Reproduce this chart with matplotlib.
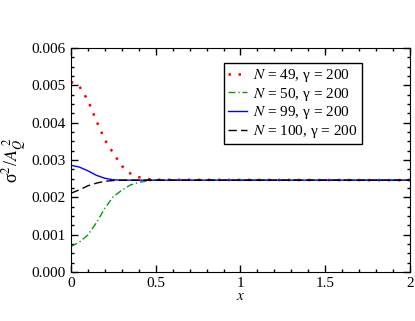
import matplotlib
matplotlib.use("Agg")
import matplotlib.pyplot as plt
from matplotlib.ticker import MultipleLocator, FormatStrFormatter

plt.rcParams['font.family'] = ['Liberation Serif', 'DejaVu Serif']
plt.rcParams['mathtext.fontset'] = 'stix'

x = [0, 0.05, 0.1, 0.15, 0.2, 0.25, 0.3, 0.35, 0.4, 0.45, 0.5, 2.0]
y_n49 = [0.00510, 0.00497, 0.00460, 0.00405, 0.00354, 0.00318, 0.00284, 0.00264, 0.00254, 0.00249, 0.00247, 0.00246]
y_n50 = [0.00068, 0.00080, 0.00099, 0.00132, 0.00171, 0.00202, 0.00219, 0.00233, 0.00240, 0.00244, 0.00246, 0.00246]
y_n99 = [0.00286, 0.00281, 0.00271, 0.00259, 0.00251, 0.00247, 0.00246, 0.00246, 0.00246, 0.00246, 0.00246, 0.00246]
y_n100 = [0.00211, 0.00220, 0.00231, 0.00238, 0.00243, 0.00245, 0.00246, 0.00246, 0.00246, 0.00246, 0.00246, 0.00246]
labels = ['$N$ = 49, γ = 200', '$N$ = 50, γ = 200', '$N$ = 99, γ = 200', '$N$ = 100, γ = 200']

fig = plt.figure(figsize=(4.15, 3.21), dpi=100)
ax = fig.add_axes([0.171, 0.153, 0.817, 0.697])

ax.plot(x, y_n49, color='red', linestyle=(0, (1, 3)), linewidth=1.8, label=labels[0])
ax.plot(x, y_n50, color='#00a000', linestyle=(0, (5, 2, 1, 2)), linewidth=1.0, label=labels[1])
ax.plot(x, y_n99, color='blue', linestyle='-', linewidth=1.0, label=labels[2])
ax.plot(x, y_n100, color='black', linestyle=(0, (6, 3)), linewidth=1.0, label=labels[3])

ax.set_xlim(0, 2)
ax.set_ylim(0, 0.006)
ax.xaxis.set_major_locator(MultipleLocator(0.5))
ax.xaxis.set_minor_locator(MultipleLocator(0.1))
ax.yaxis.set_major_locator(MultipleLocator(0.001))
ax.yaxis.set_minor_locator(MultipleLocator(0.00025))
ax.xaxis.set_major_formatter(FormatStrFormatter('%g'))
ax.yaxis.set_major_formatter(FormatStrFormatter('%.3f'))
ax.tick_params(which='both', direction='in', top=True, right=True, labelsize=11, width=1)
ax.tick_params(which='major', length=5)
ax.tick_params(which='minor', length=2.5)
ax.tick_params(axis='x', pad=4)

ax.set_xlabel('$x$', fontsize=11, labelpad=0)
ax.set_ylabel('σ$^2$/$A_Q^{\\;2}$', fontsize=13)
ax.yaxis.set_label_coords(-0.125, 0.5)

leg = ax.legend(loc='upper left', bbox_to_anchor=(0.451, 0.935), fontsize=11,
                frameon=True, fancybox=False, edgecolor='black', framealpha=1,
                handlelength=1.2, handletextpad=0.4, labelspacing=0.1,
                borderpad=0.3, borderaxespad=0)
leg.get_frame().set_linewidth(1.0)

fig.savefig('out.png', dpi=100)
